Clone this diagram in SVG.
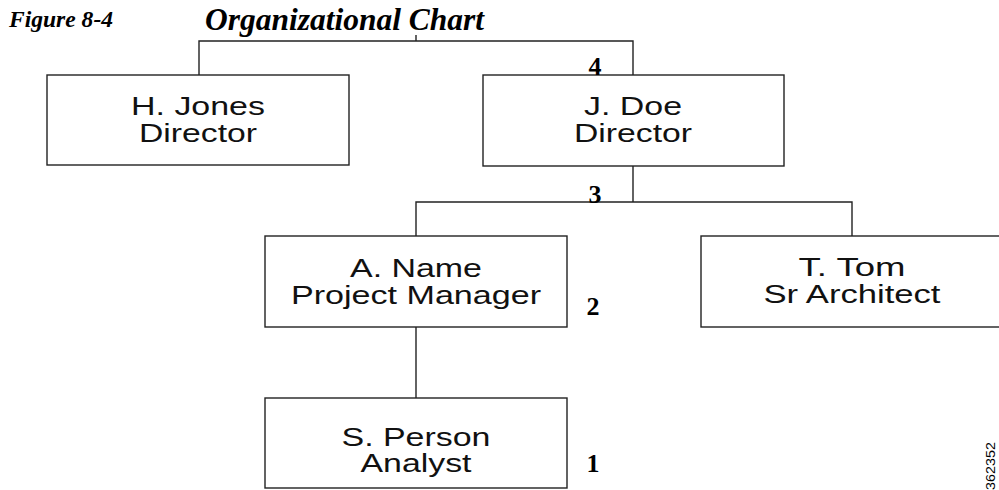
<svg xmlns="http://www.w3.org/2000/svg" width="999" height="490" viewBox="0 0 999 490">
  <style>
    .box { fill: #ffffff; stroke: #222222; stroke-width: 1.4; }
    .wire { fill: none; stroke: #222222; stroke-width: 1.4; }
    .label { font-family: "Liberation Sans", Arial, sans-serif; font-size: 25px; fill: #111111; text-anchor: middle; }
    .level { font-family: "Liberation Serif", "Times New Roman", serif; font-weight: bold; font-size: 26px; fill: #000000; text-anchor: middle; }
    .caption { font-family: "Liberation Serif", "Times New Roman", serif; font-weight: bold; font-style: italic; fill: #000000; }
    .code { font-family: "Liberation Sans", Arial, sans-serif; font-size: 13px; fill: #000000; }
  </style>
  <rect width="999" height="490" fill="#ffffff"/>

  <!-- caption -->
  <text class="caption" x="9" y="27" font-size="24" textLength="104" lengthAdjust="spacingAndGlyphs">Figure 8-4</text>
  <text class="caption" x="205" y="30" font-size="32" textLength="279" lengthAdjust="spacingAndGlyphs">Organizational Chart</text>

  <!-- reporting lines -->
  <g id="connectors">
    <line class="wire" x1="416" y1="35" x2="416" y2="41"/>
    <polyline class="wire" points="199,75 199,41 633,41 633,75"/>
    <polyline class="wire" points="416,236 416,202 852,202 852,236"/>
    <line class="wire" x1="633" y1="166" x2="633" y2="202"/>
    <line class="wire" x1="416" y1="327" x2="416" y2="398"/>
  </g>

  <!-- people -->
  <g id="h-jones">
    <rect class="box" x="47" y="75" width="302" height="90"/>
    <text class="label" x="198" y="115" textLength="134" lengthAdjust="spacingAndGlyphs">H. Jones</text>
    <text class="label" x="198" y="142" textLength="118" lengthAdjust="spacingAndGlyphs">Director</text>
  </g>
  <g id="j-doe">
    <rect class="box" x="483" y="75" width="301" height="91"/>
    <text class="label" x="633" y="115" textLength="98" lengthAdjust="spacingAndGlyphs">J. Doe</text>
    <text class="label" x="633" y="142" textLength="118" lengthAdjust="spacingAndGlyphs">Director</text>
  </g>
  <g id="a-name">
    <rect class="box" x="265" y="236" width="302" height="91"/>
    <text class="label" x="416" y="277" textLength="132" lengthAdjust="spacingAndGlyphs">A. Name</text>
    <text class="label" x="416" y="304" textLength="250" lengthAdjust="spacingAndGlyphs">Project Manager</text>
  </g>
  <g id="t-tom">
    <rect class="box" x="701" y="236" width="302" height="91"/>
    <text class="label" x="852" y="276" textLength="107" lengthAdjust="spacingAndGlyphs">T. Tom</text>
    <text class="label" x="852" y="303" textLength="177" lengthAdjust="spacingAndGlyphs">Sr Architect</text>
  </g>
  <g id="s-person">
    <rect class="box" x="265" y="398" width="302" height="90"/>
    <text class="label" x="416" y="446" textLength="149" lengthAdjust="spacingAndGlyphs">S. Person</text>
    <text class="label" x="416" y="472" textLength="111" lengthAdjust="spacingAndGlyphs">Analyst</text>
  </g>

  <!-- level numbers -->
  <g id="levels">
    <text class="level" x="595" y="75">4</text>
    <text class="level" x="595" y="203">3</text>
    <text class="level" x="593" y="315">2</text>
    <text class="level" x="593" y="472">1</text>
  </g>

  <text class="code" transform="translate(995,490) rotate(-90)" x="0" y="0" textLength="48" lengthAdjust="spacingAndGlyphs">362352</text>
</svg>
